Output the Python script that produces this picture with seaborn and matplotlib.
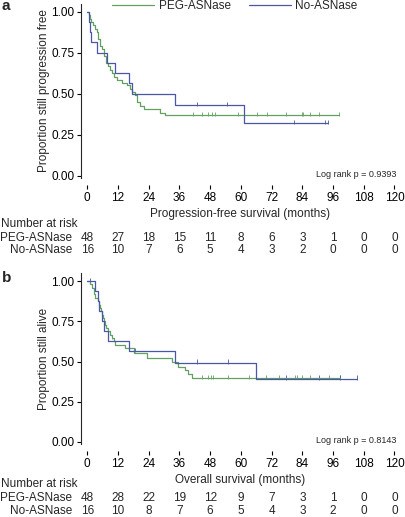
import numpy as np
import pandas as pd
import matplotlib
matplotlib.use("Agg")
import matplotlib.pyplot as plt
import matplotlib.transforms as mtransforms
from matplotlib.lines import Line2D
import seaborn as sns

GREEN = "#62a162"
BLUE = "#4a57a6"

groups = ["PEG-ASNase", "No-ASNase"]
risk_times = [0, 12, 24, 36, 48, 60, 72, 84, 96, 108, 120]

# panel a - progression-free survival
pfs_peg_t = [0.5, 1.0, 1.5, 2.2, 3.0, 3.6, 4.3, 5.0, 5.7, 6.5, 7.2, 8.0, 8.8, 9.6,
             10.5, 11.5, 13.5, 15.5, 16.5, 17.5, 18.5, 19.5, 20.5, 22.0, 28.5, 30.5]
pfs_peg_s = [0.979, 0.958, 0.938, 0.917, 0.896, 0.875, 0.833, 0.792, 0.771, 0.729,
             0.688, 0.667, 0.646, 0.625, 0.604, 0.583, 0.563, 0.552, 0.531, 0.510,
             0.490, 0.448, 0.427, 0.406, 0.385, 0.370]
pfs_peg_cens = [41.4, 44.7, 47.3, 48.6, 49.9, 59.0, 66.2, 70.1, 77.6, 83.7, 84.4,
                87.0, 90.6, 98.4]
pfs_peg_end = 98.4

pfs_no_t = [0.8, 1.2, 1.6, 3.9, 7.6, 10.8, 16.4, 17.5, 34.3, 61.2]
pfs_no_s = [0.9375, 0.875, 0.8125, 0.75, 0.6875, 0.625, 0.5625, 0.5, 0.4286, 0.3214]
pfs_no_cens = [42.7, 54.4, 80.7, 92.8, 93.9]
pfs_no_end = 93.9

pfs_risk_peg = [48, 27, 18, 15, 11, 8, 6, 3, 1, 0, 0]
pfs_risk_no = [16, 10, 7, 6, 5, 4, 3, 2, 0, 0, 0]

# panel b - overall survival
os_peg_t = [1.0, 2.0, 2.5, 3.0, 4.2, 4.6, 5.0, 5.4, 5.8, 6.2, 6.6, 7.0, 7.5, 8.0,
            8.8, 9.5, 10.5, 11.0, 14.8, 18.1, 23.3, 33.0, 35.5, 38.2, 39.5, 40.8]
os_peg_s = [0.979, 0.958, 0.917, 0.896, 0.875, 0.854, 0.833, 0.813, 0.792, 0.771,
            0.750, 0.729, 0.708, 0.688, 0.667, 0.646, 0.625, 0.604, 0.582, 0.551,
            0.520, 0.500, 0.469, 0.447, 0.420, 0.397]
os_peg_cens = [9.6, 44.7, 47.3, 48.2, 49.2, 54.8, 63.0, 70.0, 75.0, 81.1, 81.8,
               83.7, 87.0, 94.5, 98.7]
os_peg_end = 98.7

os_no_t = [2.9, 4.2, 4.7, 5.7, 6.4, 8.0, 16.2, 34.3, 65.9]
os_no_s = [0.9375, 0.875, 0.8125, 0.75, 0.6875, 0.625, 0.5625, 0.4922, 0.3938]
os_no_cens = [1.0, 18.8, 42.7, 54.8, 77.6, 90.6, 98.7, 105.2]
os_no_end = 105.2

os_risk_peg = [48, 28, 22, 19, 12, 9, 7, 3, 1, 0, 0]
os_risk_no = [16, 10, 8, 7, 6, 5, 4, 3, 2, 0, 0]

sns.set_style("ticks")
plt.rcParams["font.family"] = ["Liberation Sans", "DejaVu Sans"]
FS = 8.5


def km_frames(curves):
    steps, marks = [], []
    for name, t, s, cens, end in curves:
        times = np.array([0.0] + t + [end])
        surv = np.array([1.0] + s + [s[-1]])
        steps.append(pd.DataFrame({"time": times, "surv": surv, "group": name}))
        idx = np.searchsorted(times, cens, side="right") - 1
        marks.append(pd.DataFrame({"time": cens, "surv": surv[idx] + 0.008, "group": name}))
    return pd.concat(steps), pd.concat(marks)


def draw_panel(ax, curves, xlabel, ylabel, pval, risk_peg, risk_no, rows_y):
    steps, marks = km_frames(curves)
    pal = {"PEG-ASNase": GREEN, "No-ASNase": BLUE}
    sns.lineplot(data=steps, x="time", y="surv", hue="group", hue_order=groups,
                 palette=pal, drawstyle="steps-post", estimator=None, sort=False,
                 legend=False, linewidth=0.9, ax=ax)
    sns.scatterplot(data=marks, x="time", y="surv", hue="group", hue_order=groups,
                    palette=pal, marker="|", s=10, linewidth=0.6, legend=False, ax=ax)
    ax.set_xlim(-2.3, 121.5)
    ax.set_ylim(-0.015, 1.05)
    ax.set_xticks(risk_times)
    ax.set_yticks([0, 0.25, 0.5, 0.75, 1.0])
    ax.set_yticklabels([f"{v:.2f}" for v in [0, 0.25, 0.5, 0.75, 1.0]])
    sns.despine(ax=ax)
    ax.spines["bottom"].set_position(("outward", 5))
    ax.spines["bottom"].set_edgecolor("none")
    ax.spines["left"].set_linewidth(0.8)
    ax.tick_params(axis="both", length=3, width=0.8, labelsize=FS, pad=2, colors="black")
    ax.set_xlabel(xlabel, fontsize=FS, labelpad=2.5)
    ax.set_ylabel(ylabel, fontsize=FS, labelpad=1)
    ax.text(0.995, 0.02, pval, transform=ax.transAxes, ha="right", va="center", fontsize=6.5)

    fig = ax.figure
    trans = mtransforms.blended_transform_factory(ax.transData, fig.transFigure)
    fig.text(0.003, rows_y[0], "Number at risk", ha="left", va="center", fontsize=FS)
    fig.text(0.178, rows_y[1], groups[0], ha="right", va="center", fontsize=FS)
    fig.text(0.178, rows_y[2], groups[1], ha="right", va="center", fontsize=FS)
    for t, a, b in zip(risk_times, risk_peg, risk_no):
        ax.text(t, rows_y[1], str(a), transform=trans, ha="center", va="center", fontsize=FS)
        ax.text(t, rows_y[2], str(b), transform=trans, ha="center", va="center", fontsize=FS)


fig = plt.figure(figsize=(4.06, 5.17), dpi=100)
ax_a = fig.add_axes([0.2005, 0.6553, 0.7806, 0.3379])
ax_b = fig.add_axes([0.2005, 0.1404, 0.7806, 0.3315])

draw_panel(ax_a,
           [("PEG-ASNase", pfs_peg_t, pfs_peg_s, pfs_peg_cens, pfs_peg_end),
            ("No-ASNase", pfs_no_t, pfs_no_s, pfs_no_cens, pfs_no_end)],
           "Progression-free survival (months)", "Proportion still progression free",
           "Log rank p = 0.9393", pfs_risk_peg, pfs_risk_no, [0.5667, 0.5397, 0.5164])
draw_panel(ax_b,
           [("PEG-ASNase", os_peg_t, os_peg_s, os_peg_cens, os_peg_end),
            ("No-ASNase", os_no_t, os_no_s, os_no_cens, os_no_end)],
           "Overall survival (months)", "Proportion still alive",
           "Log rank p = 0.8143", os_risk_peg, os_risk_no, [0.0638, 0.0368, 0.0116])

fig.text(0.004, 0.988, "a", fontsize=11, fontweight="bold", ha="left", va="center")
fig.text(0.004, 0.462, "b", fontsize=11, fontweight="bold", ha="left", va="center")

handles = [Line2D([], [], color=GREEN, lw=0.9), Line2D([], [], color=BLUE, lw=0.9)]
fig.legend(handles, groups, loc="center", bbox_to_anchor=(0.579, 0.988), ncol=2,
           frameon=False, fontsize=FS, handlelength=3.5, handletextpad=0.4,
           columnspacing=1.6, borderpad=0, borderaxespad=0)

fig.savefig("out.png", dpi=100)
